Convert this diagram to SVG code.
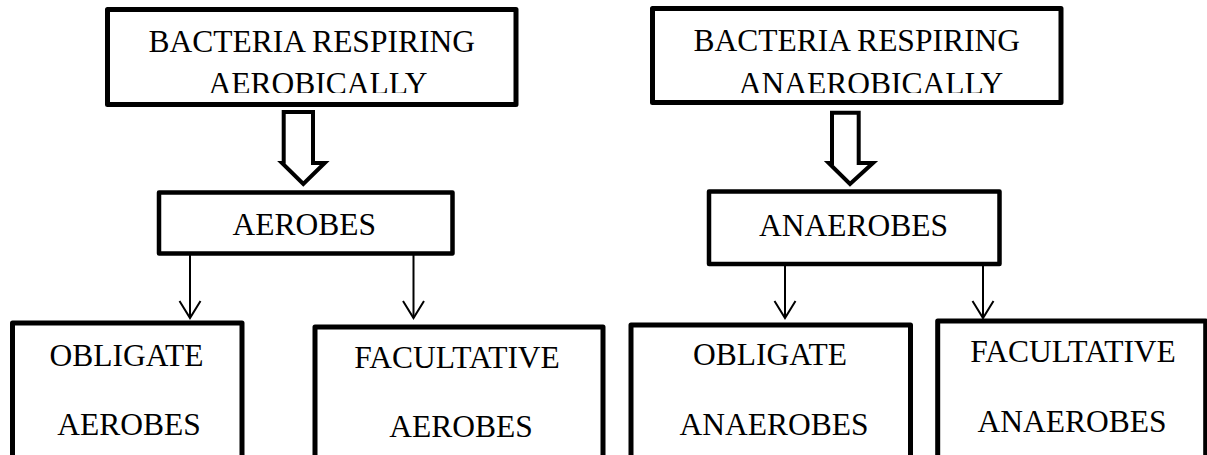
<svg xmlns="http://www.w3.org/2000/svg" width="1207" height="455" viewBox="0 0 1207 455">
  <defs>
    <style>
      .box { fill: #ffffff; stroke: #000000; stroke-linejoin: round; }
      .top { stroke-width: 5; }
      .mid { stroke-width: 4.5; }
      .low { stroke-width: 5; }
      .lbl { font-family: "Liberation Serif", "Times New Roman", serif; font-size: 31.5px; fill: #000000; text-anchor: middle; }
      .block { fill: #ffffff; stroke: #000000; stroke-width: 4; stroke-linejoin: miter; }
      .link { stroke: #000000; stroke-width: 2; fill: none; }
    </style>
    <marker id="chevron" viewBox="-20 -13 24 26" markerWidth="24" markerHeight="26" refX="0" refY="0" orient="auto" markerUnits="userSpaceOnUse">
      <path d="M-17,-10.5 L0,0 L-17,10.5" fill="none" stroke="#000000" stroke-width="2"/>
    </marker>
    <!-- text frames of the two header boxes clip their second line -->
    <clipPath id="clipLeftHead"><rect x="110" y="12" width="403" height="81"/></clipPath>
    <clipPath id="clipRightHead"><rect x="655" y="11" width="403" height="82"/></clipPath>
  </defs>

  <rect width="1207" height="455" fill="#ffffff"/>

  <!-- header: aerobic respiration -->
  <g id="node-aerobic-head">
    <rect class="box top" x="107.5" y="9.5" width="408.5" height="95"/>
    <g clip-path="url(#clipLeftHead)">
      <text class="lbl" x="311.7" y="51.7">BACTERIA RESPIRING</text>
      <text class="lbl" x="318" y="93.5">AEROBICALLY</text>
    </g>
  </g>

  <!-- header: anaerobic respiration -->
  <g id="node-anaerobic-head">
    <rect class="box top" x="652.5" y="8.5" width="408.5" height="94"/>
    <g clip-path="url(#clipRightHead)">
      <text class="lbl" x="856.7" y="50.5">BACTERIA RESPIRING</text>
      <text class="lbl" x="871" y="93.5">ANAEROBICALLY</text>
    </g>
  </g>

  <!-- connectors -->
  <g id="connectors">
    <polygon class="block" points="283.7,112 313,112 313,163 324.7,163 303.3,184 282,163 283.7,163"/>
    <polygon class="block" points="832,112.7 858.7,112.7 858.7,163 873,163 850,184 828.7,163 832,163"/>
    <line class="link" x1="190" y1="255" x2="190" y2="318" marker-end="url(#chevron)"/>
    <line class="link" x1="413.5" y1="255" x2="413.5" y2="318" marker-end="url(#chevron)"/>
    <line class="link" x1="785" y1="266" x2="785" y2="318" marker-end="url(#chevron)"/>
    <line class="link" x1="983" y1="266" x2="983" y2="318" marker-end="url(#chevron)"/>
  </g>

  <!-- middle level -->
  <g id="node-aerobes">
    <rect class="box mid" x="159" y="192.5" width="293.5" height="61"/>
    <text class="lbl" x="304.2" y="235">AEROBES</text>
  </g>
  <g id="node-anaerobes">
    <rect class="box mid" x="709" y="191.5" width="290.5" height="72.5"/>
    <text class="lbl" x="853.5" y="236">ANAEROBES</text>
  </g>

  <!-- bottom level (boxes run past the lower edge) -->
  <g id="node-obligate-aerobes">
    <rect class="box low" x="12.5" y="323" width="229.5" height="160"/>
    <text class="lbl" x="126.5" y="366">OBLIGATE</text>
    <text class="lbl" x="129" y="435">AEROBES</text>
  </g>
  <g id="node-facultative-aerobes">
    <rect class="box low" x="315" y="327" width="288" height="160"/>
    <text class="lbl" x="457" y="368">FACULTATIVE</text>
    <text class="lbl" x="461" y="437">AEROBES</text>
  </g>
  <g id="node-obligate-anaerobes">
    <rect class="box low" x="631" y="325" width="279.5" height="160"/>
    <text class="lbl" x="770" y="365">OBLIGATE</text>
    <text class="lbl" x="774" y="435">ANAEROBES</text>
  </g>
  <g id="node-facultative-anaerobes">
    <rect class="box low" x="937.7" y="321" width="268" height="160"/>
    <text class="lbl" x="1073" y="362">FACULTATIVE</text>
    <text class="lbl" x="1072" y="432">ANAEROBES</text>
  </g>
</svg>
